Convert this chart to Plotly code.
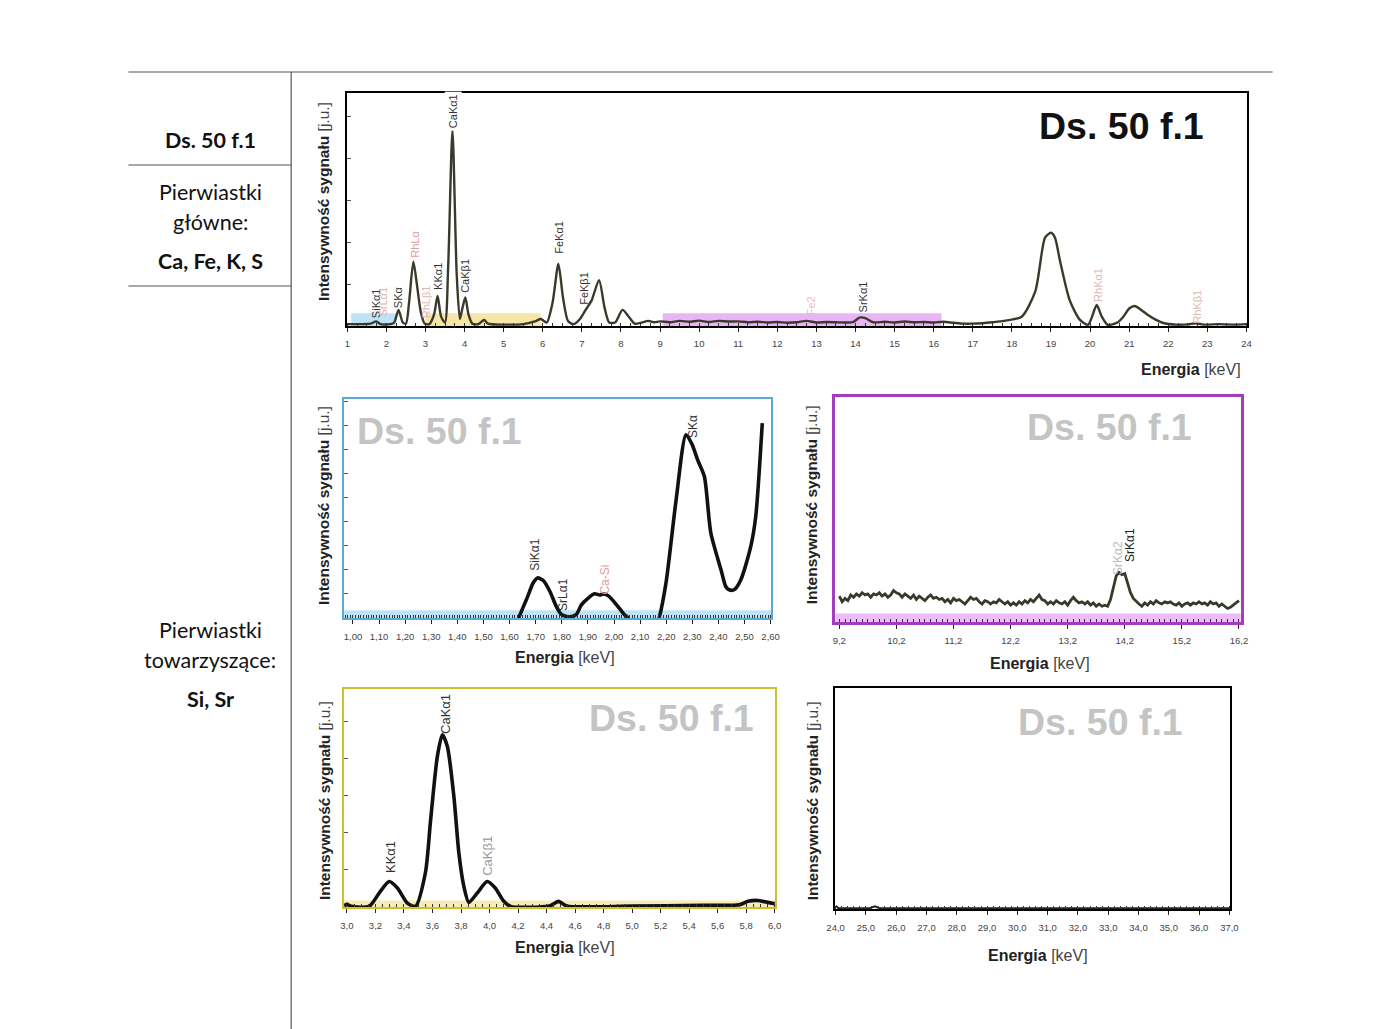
import plotly.graph_objects as go

# ---------------- DATA ----------------
# Main spectrum (keV, intensity %)
main_kev = [1.0, 1.3, 1.6, 1.74, 1.85, 2.1, 2.2, 2.31, 2.42, 2.5, 2.58, 2.69, 2.78, 2.88, 2.98,
            3.1, 3.22, 3.31, 3.4, 3.5, 3.58, 3.69, 3.8, 3.88, 3.95, 4.02, 4.1, 4.2, 4.35, 4.5,
            4.6, 5.0, 5.5, 5.8, 5.95, 6.1, 6.25, 6.4, 6.52, 6.65, 6.8, 6.95, 7.1, 7.25, 7.44,
            7.58, 7.7, 7.85, 8.04, 8.2, 8.35, 8.5, 8.7, 8.85, 9.0, 9.25, 9.5, 9.75, 10.0, 10.25,
            10.5, 10.75, 11.0, 11.25, 11.5, 11.75, 12.0, 12.25, 12.5, 12.75, 13.0, 13.25, 13.5,
            13.75, 13.95, 14.1, 14.25, 14.45, 14.75, 15.0, 15.25, 15.5, 15.75, 16.0, 16.25, 16.5,
            16.75, 17.0, 17.25, 17.5, 17.8, 18.25, 18.6, 18.85, 19.0, 19.1, 19.23, 19.48, 19.74,
            19.95, 20.05, 20.17, 20.3, 20.45, 20.7, 20.85, 21.0, 21.14, 21.3, 21.48, 21.7, 21.87,
            22.2, 22.5, 22.7, 22.9, 23.3, 23.7, 24.0]
main_int = [0.8, 0.8, 1.0, 2.0, 0.8, 0.8, 1.5, 6.9, 1.5, 1.0, 10.0, 27.6, 18.0, 6.0, 1.0,
            0.8, 5.0, 12.9, 4.0, 1.5, 25.0, 84.0, 22.0, 3.0, 8.0, 12.3, 5.0, 1.0, 0.8, 2.6,
            1.0, 0.6, 0.8, 2.0, 3.0, 1.5, 10.0, 26.6, 12.0, 2.0, 0.8, 3.0, 7.0, 11.0, 19.7,
            8.0, 1.5, 1.5, 6.9, 4.0, 1.0, 1.3, 2.2, 1.6, 2.0, 1.6, 2.2, 1.8, 2.3, 1.7,
            2.2, 1.9, 2.0, 1.6, 1.8, 1.5, 1.7, 1.4, 1.6, 2.2, 1.5, 1.7, 1.6,
            1.5, 1.8, 3.6, 3.4, 1.6, 1.8, 1.5, 1.9, 1.6, 1.7, 1.5, 1.8, 1.4,
            1.0, 1.0, 1.2, 1.6, 2.2, 4.0, 15.0, 38.0, 40.0, 38.0, 28.0, 11.0, 2.6,
            0.5, 4.0, 9.0, 4.0, 0.5, 1.5, 4.0, 7.5, 8.6, 7.0, 4.7, 2.5, 1.3,
            0.6, 0.7, 1.2, 0.6, 0.8, 0.6, 0.8]

# Inset 1: 1.0 - 2.6 keV
si_kev = [1.60, 1.635, 1.67, 1.69, 1.707, 1.73, 1.755, 1.78, 1.80, 1.83, 1.855, 1.875, 1.90,
          1.925, 1.945, 1.96, 1.98, 2.01, 2.04, 2.055, 2.09, 2.14, 2.173, 2.20, 2.238, 2.276,
          2.30, 2.32, 2.346, 2.371, 2.41, 2.428, 2.441, 2.46, 2.486, 2.524, 2.543, 2.568]
si_int = [-12, 0.0, 10.0, 16.0, 18.3, 17.0, 12.0, 5.0, 1.5, 0.5, 1.5, 6.0, 9.0,
          11.1, 10.5, 11.0, 10.0, 6.0, 1.5, 0.0, -12, -12, 0.0, 16.7, 54.0, 83.7,
          79.0, 72.3, 64.7, 38.8, 22.0, 14.4, 12.9, 12.9, 17.5, 32.7, 46.4, 89.0]

# Inset 2: 9.2 - 16.2 keV, read every 0.05 keV
sr_start, sr_step = 9.2, 0.05
sr_int = [11.5, 9.0, 10.5, 9.5, 12.0, 11.0, 12.5, 11.5, 13.0, 12.0,
          12.5, 11.0, 12.5, 12.0, 13.0, 11.5, 12.5, 11.0, 12.0, 14.0,
          13.0, 12.5, 11.0, 12.5, 11.5, 10.5, 12.0, 10.0, 11.5, 10.5,
          9.5, 11.0, 12.0, 10.5, 11.0, 10.0, 10.5, 9.0, 10.0, 8.5,
          10.5, 9.5, 10.0, 9.0, 8.0, 9.5, 11.0, 10.0, 10.5, 9.0,
          8.0, 9.5, 9.0, 8.0, 9.0, 8.5, 10.0, 9.0, 8.0, 9.0,
          7.5, 8.5, 7.5, 9.0, 8.0, 9.5, 8.5, 10.0, 9.0, 10.5,
          12.0, 10.0, 9.5, 8.0, 9.0, 8.0, 9.5, 8.5, 8.0, 9.0,
          7.5, 9.5, 11.0, 9.5, 8.5, 9.0, 8.0, 9.0, 7.5, 8.5,
          7.0, 8.0, 7.0, 7.5, 7.0, 10.0, 15.0, 20.5, 22.0, 21.0,
          21.5, 17.0, 13.0, 10.5, 9.0, 8.0, 7.0, 8.5, 7.5, 9.0,
          8.0, 9.5, 8.5, 8.0, 9.0, 8.5, 9.0, 8.0, 7.5, 8.5,
          7.0, 8.0, 8.5, 7.5, 8.5, 8.0, 9.0, 8.0, 8.5, 7.5,
          9.0, 8.0, 8.5, 7.0, 8.0, 7.0, 6.0, 6.5, 7.5, 8.5,
          9.5]
sr_kev = [round(sr_start + sr_step * i, 2) for i in range(len(sr_int))]

# Inset 3: 3.0 - 6.0 keV
ca_kev = [2.98, 3.0, 3.03, 3.156, 3.226, 3.296, 3.354, 3.424, 3.48, 3.55, 3.587, 3.634, 3.669,
          3.704, 3.75, 3.785, 3.82, 3.855, 3.914, 3.984, 4.04, 4.10, 4.147, 4.42, 4.485, 4.54,
          5.0, 5.5, 5.75, 5.813, 5.88, 5.96, 6.0]
ca_int = [0.5, 1.2, 0.3, 0.3, 6.4, 11.7, 8.7, 1.8, 0.3, 15.6, 40.0, 69.0, 79.0,
          73.7, 50.7, 24.8, 9.5, 2.1, 6.4, 11.7, 8.7, 2.6, 0.3, 0.5, 2.6, 0.5,
          0.4, 0.8, 1.0, 2.6, 3.0, 2.0, 1.5]

# Inset 4: 24 - 37 keV
hi_kev = [24.0, 24.1, 25.1, 25.3, 25.45, 37.0]
hi_int = [1.5, 0.3, 0.3, 1.2, 0.3, 0.3]

# Peak labels (keV, label centre height %, text, colour)
main_lbl_kev = [1.74, 1.89, 2.30, 2.74, 3.02, 3.32, 3.71, 4.01, 6.41, 7.05, 12.87, 14.2, 20.2, 22.73]
main_lbl_y = [9.9, 10.5, 12.4, 35.0, 10.3, 21.5, 92.3, 21.5, 38.2, 16.3, 8.6, 12.4, 17.6, 8.2]
main_lbl_txt = ["SiKα1", "SrLα1", "SKα", "RhLα", "RhLβ1", "KKα1", "CaKα1", "CaKβ1", "FeKα1",
                "FeKβ1", "Fe2", "SrKα1", "RhKα1", "RhKβ1"]
main_lbl_col = ["#333", "#e0b0b0", "#333", "#d9a0a0", "#e0b8b8", "#333", "#333", "#333", "#333",
                "#333", "#e8c0c0", "#333", "#e0b8b8", "#e0b8b8"]

si_lbl_kev = [1.698, 1.805, 1.965, 2.30]
si_lbl_y = [28.9, 10.6, 17.5, 87.3]
si_lbl_txt = ["SiKα1", "SrLα1", "Ca-Si", "SKα"]
si_lbl_col = ["#333", "#333", "#d9a0a0", "#333"]

sr_lbl_kev = [14.07, 14.28]
sr_lbl_y = [28.6, 34.4]
sr_lbl_txt = ["SrKα2", "SrKα1"]
sr_lbl_col = ["#bbbbbb", "#222"]

ca_lbl_kev = [3.31, 3.69, 3.99]
ca_lbl_y = [23.0, 88.7, 23.5]
ca_lbl_txt = ["KKα1", "CaKα1", "CaKβ1"]
ca_lbl_col = ["#333", "#333", "#999"]

# ---------------- LAYOUT HELPERS ----------------
W, H = 1400, 1029
# compensation for the page offset observed in the rendered picture
OX, SX, OY = 15.4, 0.9887, 8.0


def fx(p):
    return ((p - OX) / SX) / W


def fy(p):
    return 1 - (p - OY) / H


fig = go.Figure()

panels = [
    dict(id="", x0=346, x1=1247, yt=93, yb=326, xr=[0.995, 24.005], col="black", lw=2,
         tick0=1, dtick=1, fmt="d", minor=0.25, ydt=18),
    dict(id="2", x0=343, x1=771, yt=399, yb=618, xr=[0.966, 2.603], col="#5aaad2", lw=2.2,
         tick0=1.0, dtick=0.1, fmt=".2f", minor=0.01, ydt=11),
    dict(id="3", x0=835, x1=1241, yt=397, yb=622, xr=[9.13, 16.23], col="#a43cc0", lw=3,
         tick0=9.2, dtick=1, fmt=".1f", minor=0.1, ydt=None),
    dict(id="4", x0=343, x1=775, yt=689, yb=907, xr=[2.98, 6.005], col="#cdbf2e", lw=2.2,
         tick0=3.0, dtick=0.2, fmt=".1f", minor=0.05, ydt=17),
    dict(id="5", x0=835, x1=1230, yt=688, yb=909, xr=[23.99, 37.01], col="black", lw=2.2,
         tick0=24, dtick=1, fmt=".1f", minor=0.2, ydt=None),
]

layout_axes = {}
for p in panels:
    xa = "xaxis" + p["id"]
    ya = "yaxis" + p["id"]
    xname = "x" + p["id"]
    yname = "y" + p["id"]
    layout_axes[xa] = dict(
        domain=[fx(p["x0"]), fx(p["x1"])], range=p["xr"], anchor=yname,
        showline=True, linecolor=p["col"], linewidth=p["lw"], mirror=True,
        ticks="outside", ticklen=4, tickcolor="#222", tickwidth=1,
        tick0=p["tick0"], dtick=p["dtick"], tickformat=p["fmt"],
        tickfont=dict(family="Liberation Sans", size=9.5, color="#444"),
        ticklabelstandoff=4,
        showgrid=False, zeroline=False,
        minor=dict(dtick=p["minor"], ticks="inside", ticklen=3, tickcolor="#333", tickwidth=1),
    )
    ya_d = dict(
        domain=[fy(p["yb"]), fy(p["yt"])], range=[0, 100], anchor=xname,
        showline=True, linecolor=p["col"], linewidth=p["lw"], mirror=True,
        showticklabels=False, showgrid=False, zeroline=False,
    )
    if p["ydt"]:
        ya_d.update(ticks="inside", ticklen=4, dtick=p["ydt"], tickcolor="#555")
    else:
        ya_d.update(ticks="")
    layout_axes[ya] = ya_d

# ---------------- TRACES ----------------
series = [
    (main_kev, main_int, "", "#3a3a2c", 2.4, "spline"),
    (si_kev, si_int, "2", "#111111", 3.6, "spline"),
    (sr_kev, sr_int, "3", "#3a3a2c", 2.8, "linear"),
    (ca_kev, ca_int, "4", "#111111", 3.6, "spline"),
    (hi_kev, hi_int, "5", "#222222", 2.0, "linear"),
]
for xs, ys, aid, col, w, shp in series:
    line = dict(color=col, width=w, shape=shp)
    if shp == "spline":
        line["smoothing"] = 0.7
    fig.add_trace(go.Scatter(x=xs, y=ys, mode="lines", line=line,
                             xaxis="x" + aid, yaxis="y" + aid,
                             showlegend=False, hoverinfo="skip"))

# ---------------- SHAPES ----------------
shapes = []
for a, b, c in [(1.1, 2.26, "#bfe3f6"), (3.0, 5.95, "#f6e6a8"), (9.07, 16.2, "#e8b6f4")]:
    shapes.append(dict(type="rect", xref="x", yref="y", x0=a, x1=b, y0=0, y1=5.5,
                       fillcolor=c, line=dict(width=0), layer="below"))
for aid, c, h in [("2", "#bfe3f6", 3.5), ("3", "#ebbcf5", 3.8), ("4", "#f5ecb8", 3.0)]:
    shapes.append(dict(type="rect", xref="x" + aid + " domain", yref="y" + aid,
                       x0=0, x1=1, y0=0, y1=h, fillcolor=c, line=dict(width=0), layer="below"))
tbl = "#555555"
shapes.append(dict(type="line", xref="paper", yref="paper", x0=fx(127), x1=fx(1273),
                   y0=fy(72), y1=fy(72), line=dict(color=tbl, width=1.2)))
shapes.append(dict(type="line", xref="paper", yref="paper", x0=fx(290), x1=fx(290),
                   y0=fy(72), y1=fy(1040), line=dict(color=tbl, width=1.2)))
for yy in (165, 286):
    shapes.append(dict(type="line", xref="paper", yref="paper", x0=fx(127), x1=fx(290),
                       y0=fy(yy), y1=fy(yy), line=dict(color=tbl, width=1.2)))

# ---------------- ANNOTATIONS ----------------
ann = []
left_txt = [("<b>Ds. 50 f.1</b>", 140), ("Pierwiastki", 192), ("główne:", 222),
            ("<b>Ca, Fe, K, S</b>", 261), ("Pierwiastki", 630), ("towarzyszące:", 660),
            ("<b>Si, Sr</b>", 699)]
for t, yy in left_txt:
    ann.append(dict(text=t, x=fx(209), y=fy(yy), xref="paper", yref="paper", showarrow=False,
                    font=dict(family="Lato", size=21.5, color="#111"), xanchor="center",
                    yanchor="middle"))

for xx, yy in [(322, 202), (322, 506), (811, 505), (323, 801), (812, 801)]:
    ann.append(dict(text="<b>Intensywność sygnału</b> <span style='color:#444'>[j.u.]</span>",
                    x=fx(xx), y=fy(yy), xref="paper", yref="paper", showarrow=False,
                    textangle=-90, font=dict(family="Liberation Sans", size=15.5, color="#222"),
                    xanchor="center", yanchor="middle"))
for xx, yy, anc in [(1243, 369, "right"), (564, 657, "center"), (1040, 663, "center"),
                    (564, 947, "center"), (1038, 955, "center")]:
    ann.append(dict(text="<b>Energia</b> <span style='color:#444'>[keV]</span>",
                    x=fx(xx), y=fy(yy), xref="paper", yref="paper", showarrow=False,
                    font=dict(family="Liberation Sans", size=16, color="#222"),
                    xanchor=anc, yanchor="middle"))
ann.append(dict(text="<b>Ds. 50 f.1</b>", x=fx(1122), y=fy(126), xref="paper", yref="paper",
                showarrow=False, font=dict(family="Liberation Sans", size=37.5, color="#111"),
                xanchor="center", yanchor="middle"))
for xx, yy in [(439, 431), (1110, 427), (671, 718), (1101, 722)]:
    ann.append(dict(text="<b>Ds. 50 f.1</b>", x=fx(xx), y=fy(yy), xref="paper", yref="paper",
                    showarrow=False, font=dict(family="Liberation Sans", size=37.5, color="#c4c4c4"),
                    xanchor="center", yanchor="middle"))

lbl_sets = [
    ("", main_lbl_kev, main_lbl_y, main_lbl_txt, main_lbl_col, 11),
    ("2", si_lbl_kev, si_lbl_y, si_lbl_txt, si_lbl_col, 12),
    ("3", sr_lbl_kev, sr_lbl_y, sr_lbl_txt, sr_lbl_col, 12),
    ("4", ca_lbl_kev, ca_lbl_y, ca_lbl_txt, ca_lbl_col, 13),
]
for aid, xs, ys, ts, cs, fs in lbl_sets:
    for xv, yv, t, c in zip(xs, ys, ts, cs):
        a = dict(text=t, x=xv, y=yv, xref="x" + aid, yref="y" + aid, showarrow=False,
                 textangle=-90, font=dict(family="Liberation Sans", size=fs, color=c),
                 xanchor="center", yanchor="middle")
        if aid == "" and t == "CaKα1":
            a.update(bgcolor="white", borderpad=2)
        ann.append(a)

fig.update_layout(
    width=W, height=H, margin=dict(l=0, r=0, t=0, b=0),
    paper_bgcolor="white", plot_bgcolor="white",
    separators=",.", showlegend=False,
    shapes=shapes, annotations=ann,
    **layout_axes,
)

fig.write_html("out.html")
